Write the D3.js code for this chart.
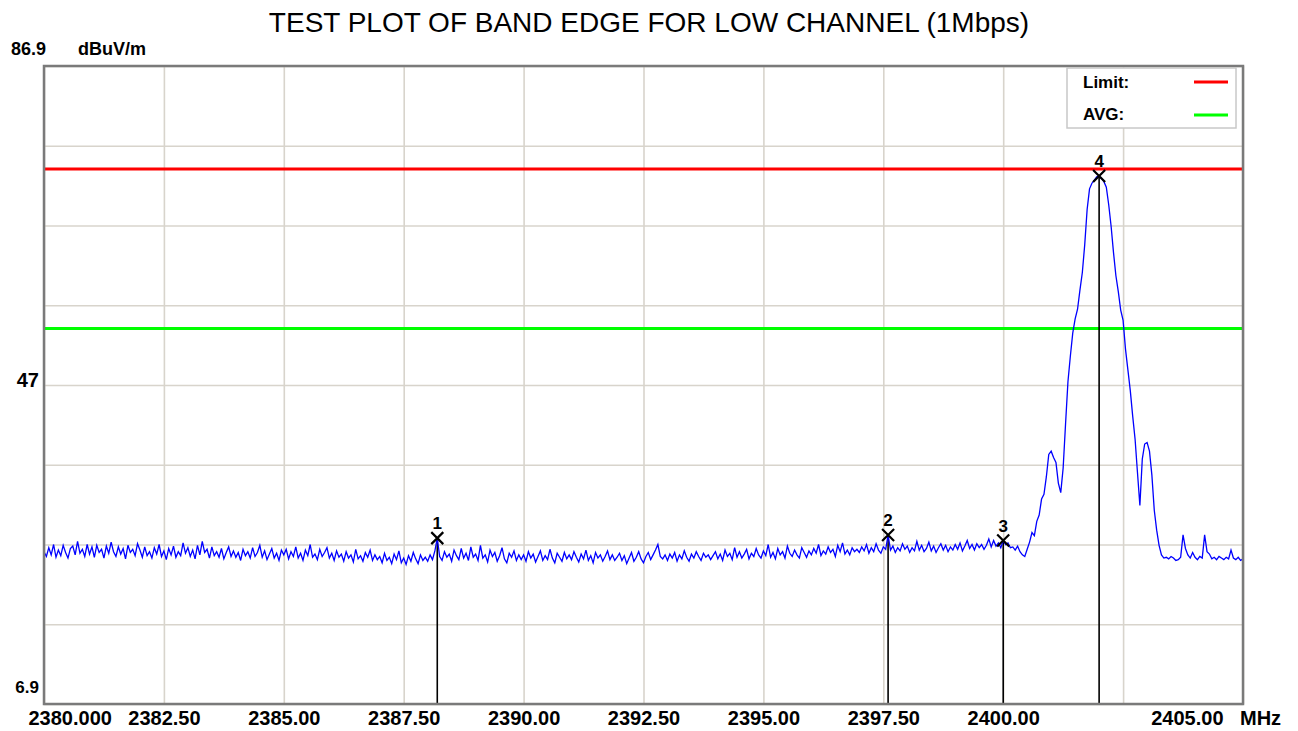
<!DOCTYPE html>
<html>
<head>
<meta charset="utf-8">
<script src="https://cdn.jsdelivr.net/npm/d3@7"></script>
<style>
  body { margin: 0; background: #fff; }
  text { font-family: "Liberation Sans", Arial, sans-serif; }
</style>
</head>
<body>
<script>
// sweep settings (analyzer grid)
var startFreq = 2380;
var stopFreq = 2405;
var stepFreq = 0.05;

var traceLevel = [
  26.0,25.4,26.5,25.6,26.9,25.3,26.2,25.5,26.8,25.9,25.2,26.4,26.7,25.6,27.3,25.8,26.3,25.4,26.9,25.7,
  26.6,25.3,26.8,25.9,26.3,25.2,26.7,25.8,27.2,26.0,25.4,26.6,25.7,26.4,25.1,26.8,25.9,26.3,25.5,27.0,
  26.2,25.3,26.6,25.5,26.0,25.2,26.5,25.7,26.9,25.4,26.1,25.0,26.4,25.6,26.7,25.3,26.0,25.5,27.1,25.8,
  26.5,25.4,26.2,25.1,26.8,25.6,27.3,25.9,26.3,25.2,26.6,25.5,26.0,25.3,26.4,25.1,25.9,26.6,25.4,26.1,
  25.3,25.9,24.9,26.3,25.5,26.0,25.2,26.5,25.4,25.9,26.8,25.3,26.1,25.0,25.7,26.4,25.2,25.8,24.9,26.2,
  25.6,26.3,25.1,26.0,25.4,26.6,25.2,25.8,24.9,26.2,25.5,26.9,25.3,25.7,25.0,26.3,25.4,25.9,26.5,25.2,
  25.8,24.9,26.1,25.3,25.7,24.8,26.0,25.2,25.6,24.7,26.3,25.1,25.5,24.8,25.9,25.3,26.2,24.9,25.6,25.0,
  25.4,24.6,25.8,24.9,25.3,24.5,25.7,25.0,26.1,24.6,25.2,24.4,25.5,24.8,25.9,25.1,24.5,25.6,24.9,25.3,
  24.8,25.6,25.0,26.1,27.7,25.4,24.9,26.0,25.3,25.7,24.8,26.2,25.5,25.0,26.4,25.2,25.8,24.9,26.6,25.3,
  25.7,24.9,26.8,25.2,25.6,24.7,26.2,25.4,25.9,24.8,25.5,26.5,25.1,24.6,25.8,25.3,26.1,24.9,25.6,25.0,
  25.6,24.8,26.0,25.2,25.7,24.7,25.4,26.1,24.9,25.5,25.0,26.3,25.2,24.6,25.8,25.3,24.8,25.9,25.1,25.6,
  25.0,26.0,25.3,24.7,25.7,25.1,26.2,24.9,25.5,24.6,25.9,25.2,25.6,24.8,25.4,26.1,25.0,25.6,24.9,25.3,
  25.8,24.9,25.5,24.5,25.2,25.9,24.8,25.3,26.0,25.1,24.6,25.4,25.9,25.0,25.6,26.2,26.9,25.4,25.1,25.6,
  24.9,25.7,25.2,25.9,24.8,25.6,25.1,26.1,25.3,24.8,25.7,25.2,26.0,25.4,24.9,25.8,25.3,25.6,25.0,25.5,
  26.0,25.1,25.7,24.9,26.2,25.4,25.8,25.0,26.5,25.3,26.0,25.2,25.7,26.3,25.1,25.8,25.4,26.4,25.6,25.2,
  26.1,25.5,26.9,25.3,25.9,25.1,26.4,25.6,26.0,25.2,26.7,25.8,25.4,26.2,25.6,25.2,26.5,25.9,25.3,26.1,
  25.6,26.4,25.8,26.9,25.5,26.1,25.7,26.6,25.9,26.3,25.4,26.8,26.0,27.1,25.7,26.2,25.6,26.5,26.0,26.3,
  25.9,26.6,26.1,26.9,25.8,26.5,26.0,27.0,26.2,25.8,26.6,26.3,28.1,26.2,26.7,25.9,26.5,26.1,27.0,26.3,
  26.7,25.9,26.5,26.1,27.3,26.2,26.8,26.0,26.4,27.2,26.1,26.7,25.9,26.5,27.0,26.2,26.8,26.0,26.6,26.2,
  26.9,26.3,27.1,26.1,26.7,27.4,26.4,26.9,26.2,27.0,26.5,26.9,26.3,26.8,27.6,26.6,27.4,26.7,27.1,26.5,
  27.4,26.9,27.1,26.5,26.6,26.2,26.7,26.0,25.6,25.4,26.3,27.2,28.4,28.0,29.8,30.6,32.6,33.2,35.4,38.2,
  38.6,37.8,37.2,34.6,33.4,36.5,42.0,47.3,50.5,53.4,55.2,56.4,58.8,61.0,64.5,68.9,71.5,72.2,72.6,73.0,
  73.1,72.8,72.4,71.7,69.5,66.8,63.5,60.6,58.6,56.3,55.0,51.4,48.8,46.2,43.0,40.1,35.9,31.8,37.6,39.5,
  39.7,38.6,35.6,31.2,28.7,26.8,25.6,25.2,25.3,25.1,25.4,25.2,24.9,25.0,25.3,28.1,26.4,25.6,25.2,25.9,
  25.3,25.0,25.4,25.2,28.1,26.0,25.7,25.1,25.3,25.0,25.4,25.2,25.0,25.3,25.1,26.2,25.2,25.0,25.3,24.9,
  25.1
];

// markers
var markerIds = ["1", "2", "3", "4"];
var markerFreq = [2388.20, 2397.60, 2400.00, 2402.00];
var markerLevel = [27.7, 28.1, 27.4, 73.1];

// limit lines
var limitNames = ["Limit:", "AVG:"];
var limitValues = [74, 54];
var limitColors = ["#ff0000", "#00ff00"];

// axis ticks
var xTicks = [2380, 2382.5, 2385, 2387.5, 2390, 2392.5, 2395, 2397.5, 2400, 2402.5, 2405];
var xTickLabels = ["2380.000", "2382.50", "2385.00", "2387.50", "2390.00", "2392.50", "2395.00", "2397.50", "2400.00", "", "2405.00"];
var yTicks = [6.9, 16.9, 26.9, 36.9, 46.9, 56.9, 66.9, 76.9, 86.9];
var yLabelValues = [6.9, 46.9];
var yLabelText = ["6.9", "47"];

var w = 1298;
var h = 731;
var pLeft = 44, pRight = 1243, pTop = 66, pBottom = 704;

var xScale = d3.scaleLinear().domain([startFreq, stopFreq]).range([pLeft, pRight]);
var yScale = d3.scaleLinear().domain([6.9, 86.9]).range([pBottom, pTop]);

var trace = traceLevel.map(function(d, i) {
  return { f: startFreq + i * stepFreq, v: d };
});

var svg = d3.select("body").append("svg")
  .attr("width", w)
  .attr("height", h);

// title
svg.append("text")
  .attr("x", 649)
  .attr("y", 32)
  .attr("text-anchor", "middle")
  .attr("font-size", "28px")
  .text("TEST PLOT OF BAND EDGE FOR LOW CHANNEL (1Mbps)");

// plot background
svg.append("rect")
  .attr("x", pLeft).attr("y", pTop)
  .attr("width", pRight - pLeft).attr("height", pBottom - pTop)
  .attr("fill", "#fff");

// grid via axes
svg.append("g")
  .attr("class", "grid")
  .attr("transform", "translate(0," + pBottom + ")")
  .call(d3.axisBottom(xScale).tickValues(xTicks).tickSize(-(pBottom - pTop)).tickFormat(""));
svg.append("g")
  .attr("class", "grid")
  .attr("transform", "translate(" + pLeft + ",0)")
  .call(d3.axisLeft(yScale).tickValues(yTicks).tickSize(-(pRight - pLeft)).tickFormat(""));
svg.selectAll(".grid .domain").remove();
svg.selectAll(".grid .tick line")
  .attr("stroke", "#d8d4cc")
  .attr("stroke-width", 1.6);

// x tick labels
svg.append("g")
  .attr("transform", "translate(0," + pBottom + ")")
  .call(d3.axisBottom(xScale).tickValues(xTicks).tickSize(0).tickPadding(7)
    .tickFormat(function(d, i) { return xTickLabels[i]; }))
  .call(function(g) {
    g.select(".domain").remove();
    g.selectAll("text")
      .attr("font-family", "'Liberation Sans', Arial, sans-serif")
      .attr("font-size", "20px")
      .attr("font-weight", "bold")
      .attr("fill", "#000")
      .attr("text-anchor", function(d, i) {
        if (i === 0) return "start";
        if (i === xTicks.length - 1) return "end";
        return "middle";
      })
      .attr("dx", function(d, i) {
        if (i === 0) return -16;
        if (i === xTicks.length - 1) return -20;
        return 0;
      });
  });

svg.append("text")
  .attr("x", 1240)
  .attr("y", 725)
  .attr("font-size", "20px")
  .attr("font-weight", "bold")
  .text("MHz");

// y labels
svg.selectAll("text.ylab")
  .data(yLabelValues)
  .enter()
  .append("text")
  .attr("class", "ylab")
  .attr("x", 39)
  .attr("y", function(d) { return Math.min(yScale(d) + 2, 693); })
  .attr("text-anchor", "end")
  .attr("font-size", function(d, i) { return i === 0 ? "17px" : "20px"; })
  .attr("font-weight", "bold")
  .text(function(d, i) { return yLabelText[i]; });

svg.append("text")
  .attr("x", 11).attr("y", 55)
  .attr("font-size", "18px")
  .attr("font-weight", "bold")
  .text("86.9");
svg.append("text")
  .attr("x", 78).attr("y", 55)
  .attr("font-size", "18px")
  .attr("font-weight", "bold")
  .text("dBuV/m");

// limit lines
svg.selectAll("line.limit")
  .data(limitValues)
  .enter()
  .append("line")
  .attr("class", "limit")
  .attr("x1", pLeft).attr("x2", pRight)
  .attr("y1", function(d) { return yScale(d); })
  .attr("y2", function(d) { return yScale(d); })
  .attr("stroke", function(d, i) { return limitColors[i]; })
  .attr("stroke-width", 3);

// marker stems
svg.selectAll("line.stem")
  .data(markerFreq)
  .enter()
  .append("line")
  .attr("class", "stem")
  .attr("x1", function(d) { return xScale(d); })
  .attr("x2", function(d) { return xScale(d); })
  .attr("y1", function(d, i) { return yScale(markerLevel[i]); })
  .attr("y2", pBottom)
  .attr("stroke", "#000")
  .attr("stroke-width", 1.6);

// trace
var line = d3.line()
  .x(function(d) { return xScale(d.f); })
  .y(function(d) { return yScale(d.v); });

svg.append("path")
  .datum(trace)
  .attr("d", line)
  .attr("fill", "none")
  .attr("stroke", "#0000ff")
  .attr("stroke-width", 1.3);

// marker crosses + numbers
var mk = svg.selectAll("g.marker")
  .data(markerFreq)
  .enter()
  .append("g")
  .attr("class", "marker")
  .attr("transform", function(d, i) {
    return "translate(" + xScale(d) + "," + yScale(markerLevel[i]) + ")";
  });
mk.append("path")
  .attr("d", "M-6,-6L6,6M-6,6L6,-6")
  .attr("stroke", "#000")
  .attr("stroke-width", 2.2);
mk.append("text")
  .attr("y", -9)
  .attr("text-anchor", "middle")
  .attr("font-size", "17px")
  .attr("font-weight", "bold")
  .text(function(d, i) { return markerIds[i]; });

// plot frame
svg.append("rect")
  .attr("x", pLeft).attr("y", pTop)
  .attr("width", pRight - pLeft).attr("height", pBottom - pTop)
  .attr("fill", "none")
  .attr("stroke", "#7a7a7a")
  .attr("stroke-width", 2.5);

// legend
var lg = svg.append("g");
lg.append("rect")
  .attr("x", 1067).attr("y", 68)
  .attr("width", 169).attr("height", 60)
  .attr("fill", "#fff")
  .attr("stroke", "#c8c8c8")
  .attr("stroke-width", 1.5);
lg.selectAll("text")
  .data(limitNames)
  .enter()
  .append("text")
  .attr("x", 1083)
  .attr("y", function(d, i) { return 88 + i * 32; })
  .attr("font-size", "17px")
  .attr("font-weight", "bold")
  .text(function(d) { return d; });
lg.selectAll("line")
  .data(limitColors)
  .enter()
  .append("line")
  .attr("x1", 1194).attr("x2", 1228)
  .attr("y1", function(d, i) { return 82 + i * 33; })
  .attr("y2", function(d, i) { return 82 + i * 33; })
  .attr("stroke", function(d) { return d; })
  .attr("stroke-width", 3);
</script>
</body>
</html>
